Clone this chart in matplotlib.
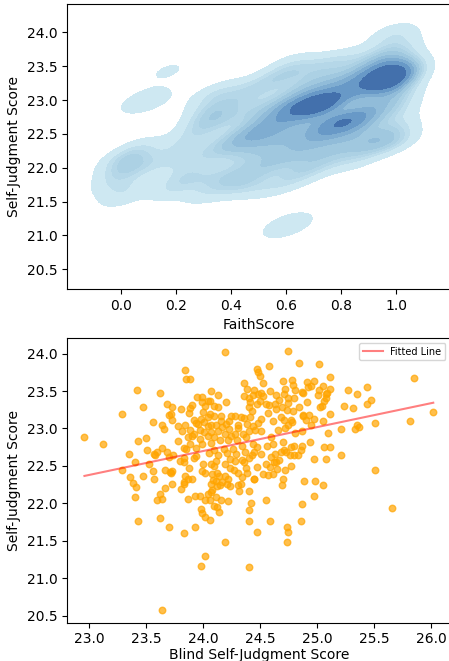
import numpy as np
import matplotlib
matplotlib.use("Agg")
import matplotlib.pyplot as plt
from matplotlib.colors import LinearSegmentedColormap
import seaborn as sns

# --- top panel: (FaithScore, Self-Judgment) samples ---
kde_faith = [
    # peak around faith = 1
    1.00, 1.00, 0.98, 0.97, 1.00, 0.95, 1.00, 0.99, 0.96, 1.00, 0.94, 1.00, 0.97,
    1.00, 1.00, 1.00, 0.98, 0.95, 0.90, 0.88, 1.00, 1.00, 0.97, 1.00, 0.93, 1.00, 0.95, 1.00, 0.92,
    # middle dark spots
    0.70, 0.66, 0.74, 0.64, 0.72, 0.68, 0.60, 0.76, 0.70, 0.72, 0.67, 0.74,
    0.78, 0.82, 0.74, 0.80, 0.76, 0.85, 0.78,
    # main body
    0.60, 0.62, 0.58, 0.65, 0.70, 0.72, 0.85, 0.88, 0.90, 0.86, 0.82, 0.90, 0.80, 0.76,
    0.70, 0.64, 0.82, 0.78, 0.72, 0.86, 0.60, 0.56, 0.55, 0.68, 0.84, 0.92, 0.66, 0.80,
    0.60, 0.68, 0.75, 0.82, 0.90, 0.98, 0.55, 0.64, 0.72, 0.85, 0.62, 0.50,
    0.60, 0.55, 0.68, 0.75, 0.82, 0.50, 0.45, 0.62,
    0.52, 0.55, 0.58, 0.88,
    # band 0.4 - 0.55
    0.45, 0.48, 0.50, 0.42, 0.52, 0.46, 0.40, 0.44, 0.50, 0.42, 0.53, 0.48,
    # left middle
    0.33, 0.35, 0.31, 0.37, 0.29,
    0.30, 0.36, 0.26, 0.42, 0.20,
    0.22, 0.26, 0.38, 0.30, 0.20, 0.32, 0.38,
    0.18, 0.30, 0.45,
    # far left
    0.00, 0.03, 0.00, -0.03, 0.00, 0.07, 0.12, 0.04, 0.01,
    # isolated
    0.08, 0.10, 0.17, 0.60, 0.61,
]
kde_self = [
    23.35, 23.40, 23.30, 23.42, 23.28, 23.36, 23.48, 23.33, 23.25, 23.22, 23.45, 23.38, 23.50,
    23.60, 23.75, 23.90, 24.00, 23.65, 23.55, 23.40, 23.10, 22.95, 23.05, 22.80, 22.90, 22.60, 22.50, 22.40, 23.20,
    22.92, 22.95, 22.98, 22.85, 22.85, 23.02, 22.90, 22.90, 22.90, 22.95, 22.88, 22.92,
    22.65, 22.60, 22.62, 22.72, 22.55, 22.68, 22.65,
    22.70, 22.55, 22.45, 22.40, 22.45, 22.35, 22.45, 22.60, 22.75, 22.80, 23.05, 23.12, 23.10, 23.15,
    23.15, 23.20, 23.25, 23.35, 23.30, 23.30, 23.05, 22.85, 22.60, 22.65, 22.78, 22.40, 22.25, 22.40,
    22.15, 22.10, 22.20, 22.25, 22.30, 22.35, 22.05, 21.95, 22.00, 22.10, 21.80, 22.15,
    23.40, 23.30, 23.45, 23.55, 23.60, 23.20, 23.05, 23.55,
    22.55, 22.75, 22.30, 23.22,
    22.50, 22.40, 22.60, 22.30, 22.35, 22.75, 22.45, 22.15, 21.95, 21.75, 21.70, 22.90,
    22.75, 22.68, 22.85, 22.90, 22.62,
    21.85, 21.82, 21.95, 21.90, 21.80,
    22.30, 22.45, 22.30, 22.20, 22.05, 23.05, 23.15,
    21.65, 21.60, 21.72,
    22.10, 22.18, 21.95, 21.78, 21.55, 22.30, 22.08, 22.02, 21.70,
    22.98, 23.00, 23.43, 21.14, 21.16,
]

# --- bottom panel: Blind Self-Judgment vs Self-Judgment (scatter) ---
blind_score = [
    22.96, 23.12, 23.29, 23.42, 23.47, 23.35, 23.29, 23.40, 23.43, 23.50,
    23.53, 23.51, 23.47, 23.36, 23.39, 23.41, 23.40, 23.43, 23.56, 23.62,
    23.64, 23.66, 23.68, 23.73, 23.70, 23.72, 23.73, 23.56, 23.57, 23.57,
    23.58, 23.60, 23.64, 23.68, 23.70, 23.74, 23.67, 23.72, 23.73, 23.67,
    23.73, 23.62, 23.60, 23.64, 23.62, 23.70, 23.83, 23.64, 23.84, 23.85,
    23.89, 23.81, 23.78, 23.82, 23.84, 23.78, 23.83, 23.85, 23.83, 23.80,
    23.83, 23.84, 23.87, 23.90, 23.83, 23.83, 23.81, 23.87, 23.93, 23.93,
    23.89, 23.90, 23.88, 23.92, 23.94, 23.95, 23.89, 23.87, 23.90, 23.92,
    23.89, 23.92, 23.94, 23.88, 23.94, 23.71,
    24.19, 24.75, 24.84, 25.02, 24.47, 24.48, 24.50, 24.58, 24.36, 24.53,
    24.70, 24.78, 24.79, 24.91, 24.97, 24.92, 24.95, 25.05, 24.39, 24.45,
    24.72, 24.81, 24.87, 25.02, 24.07, 23.99, 24.13, 24.20, 24.36, 24.40,
    24.44, 24.48, 24.51, 24.53, 24.59, 24.64, 24.71, 24.75, 24.80, 24.88,
    24.91, 25.01, 25.04, 25.03, 25.06, 24.41, 24.47, 24.50, 24.55, 24.58,
    24.63, 24.69, 24.75, 24.67, 24.40, 24.43, 24.57, 24.64, 24.74, 24.79,
    24.84, 24.88, 24.93, 23.99, 24.04, 24.06, 24.02, 24.10, 24.13, 24.00,
    24.06, 24.04, 24.10, 24.16, 24.16, 24.23, 24.25, 24.28, 24.33, 24.36,
    24.41, 24.48, 24.51, 24.61, 24.68, 24.71, 24.75, 24.77, 24.78, 24.88,
    24.90, 24.97, 25.05, 23.96, 23.98, 24.01, 24.04, 24.07, 24.11, 24.20,
    24.31, 24.39, 24.44, 24.46, 24.51, 24.40, 24.31, 24.23, 24.17, 24.72,
    24.66, 24.81, 24.87, 24.95, 23.97, 24.01, 24.07, 24.13, 24.19, 24.04,
    24.10, 24.25, 24.28, 24.35, 24.38, 24.30, 24.22, 24.15, 23.97, 23.99,
    24.07, 24.60, 24.56, 24.61, 24.70, 24.77, 24.80, 24.87, 24.94, 25.06,
    24.47, 24.45, 24.51, 24.43, 24.44, 24.34, 24.26, 24.18, 24.10, 24.05,
    24.13, 24.21, 24.29, 24.37, 24.40, 24.34, 24.28, 24.36, 24.24, 24.19,
    24.11, 24.10, 24.07, 24.00, 23.99, 24.02, 24.08, 24.12, 24.14, 24.19,
    24.24, 24.27, 24.31, 24.39, 24.47, 24.38, 24.55, 24.59, 24.62, 24.64,
    24.67, 24.68, 24.71, 24.73, 24.76, 24.80, 24.83, 24.86, 24.97, 24.63,
    24.60, 24.65, 24.72, 24.77, 24.53, 24.57, 24.61, 24.70, 24.69, 24.45,
    24.34, 24.31, 24.33, 24.32, 24.40, 24.22, 24.21, 24.24, 24.17, 24.15,
    24.11, 24.09, 24.07, 24.12, 24.08, 24.07, 24.04, 23.97, 24.02, 24.06,
    24.11, 24.16, 24.22, 24.10, 24.12, 24.14, 23.98, 23.99, 24.02, 24.06,
    24.55, 24.45, 24.42, 24.40, 24.40, 24.47, 24.59, 24.74, 24.75, 24.74,
    24.86, 24.87, 24.97, 24.89, 24.98, 25.05, 24.19, 24.02, 23.98, 24.40,
    25.11, 25.11, 25.09, 25.08, 25.08, 25.11, 25.24, 25.32, 25.27, 25.35,
    25.44, 25.47, 25.44, 25.85, 25.10, 25.21, 25.33, 25.35, 25.37, 25.51,
    25.82, 26.02, 25.11, 25.08, 25.21, 25.51, 25.66,
]
self_judgment = [
    22.88, 22.79, 23.19, 23.52, 23.28, 22.66, 22.44, 22.55, 22.83, 22.87,
    22.52, 22.71, 22.37, 22.35, 22.27, 22.22, 22.09, 21.77, 23.08, 23.47,
    23.04, 22.99, 23.33, 23.29, 23.18, 23.19, 23.11, 22.43, 22.32, 22.66,
    22.64, 22.68, 22.74, 22.69, 22.62, 22.64, 22.44, 22.41, 22.43, 22.20,
    22.26, 22.12, 22.05, 22.06, 21.81, 21.68, 21.61, 20.58, 23.78, 23.66,
    23.66, 23.26, 23.03, 22.96, 23.05, 22.83, 22.74, 22.73, 22.60, 22.56,
    22.55, 22.36, 22.33, 22.33, 22.29, 22.26, 22.19, 22.06, 22.10, 21.68,
    23.27, 23.31, 23.20, 23.11, 23.07, 23.42, 22.98, 22.88, 22.90, 22.93,
    22.79, 22.60, 22.74, 22.47, 22.63, 22.42,
    24.02, 24.04, 23.88, 23.86, 23.80, 23.76, 23.70, 23.83, 23.61, 23.61,
    23.64, 23.65, 23.58, 23.62, 23.64, 23.56, 23.57, 23.57, 23.53, 23.51,
    23.53, 23.52, 23.49, 23.52, 23.50, 23.42, 23.44, 23.35, 23.43, 23.41,
    23.44, 23.46, 23.47, 23.43, 23.50, 23.44, 23.46, 23.41, 23.40, 23.48,
    23.35, 23.45, 23.30, 23.28, 23.36, 23.35, 23.33, 23.37, 23.33, 23.31,
    23.32, 23.29, 23.34, 23.38, 23.28, 23.23, 23.21, 23.26, 23.24, 23.23,
    23.28, 23.18, 23.18, 23.35, 23.37, 23.37, 23.30, 23.30, 23.29, 23.22,
    23.19, 23.15, 23.17, 23.16, 23.10, 23.10, 23.17, 23.16, 23.15, 23.14,
    23.15, 23.07, 23.13, 23.10, 23.15, 23.11, 23.04, 23.11, 23.08, 23.16,
    23.11, 23.12, 23.10, 23.06, 23.13, 23.08, 23.03, 23.04, 23.05, 23.06,
    23.05, 23.06, 23.03, 22.98, 22.97, 22.96, 23.00, 22.99, 23.02, 23.00,
    22.98, 22.94, 22.97, 23.05, 22.98, 22.95, 22.95, 22.96, 22.93, 22.90,
    22.88, 22.90, 22.93, 22.93, 22.88, 22.85, 22.84, 22.84, 22.86, 22.79,
    22.80, 22.88, 22.77, 22.79, 22.82, 22.75, 22.76, 22.77, 22.82, 22.75,
    22.75, 22.69, 22.66, 22.64, 22.79, 22.76, 22.73, 22.73, 22.71, 22.67,
    22.64, 22.67, 22.66, 22.68, 22.61, 22.58, 22.56, 22.55, 22.59, 22.52,
    22.56, 22.50, 22.52, 22.53, 22.43, 22.40, 22.39, 22.41, 22.36, 22.37,
    22.47, 22.44, 22.40, 22.41, 22.48, 22.47, 22.52, 22.49, 22.55, 22.55,
    22.58, 22.68, 22.71, 22.68, 22.64, 22.64, 22.65, 22.71, 22.59, 22.66,
    22.62, 22.46, 22.45, 22.50, 22.39, 22.38, 22.39, 22.33, 22.24, 22.33,
    22.35, 22.24, 22.26, 22.16, 22.16, 22.33, 22.26, 22.23, 22.28, 22.24,
    22.30, 22.31, 22.26, 22.23, 22.18, 22.15, 22.13, 22.10, 22.05, 22.05,
    22.08, 22.05, 22.03, 21.96, 21.95, 21.89, 21.93, 21.87, 21.82, 21.78,
    22.04, 22.33, 22.01, 21.91, 21.77, 21.62, 21.76, 21.68, 21.62, 21.49,
    21.76, 21.99, 22.10, 22.30, 22.30, 22.24, 21.49, 21.30, 21.16, 21.15,
    23.69, 23.53, 23.48, 23.46, 23.41, 23.19, 23.30, 23.27, 23.52, 23.46,
    23.55, 23.38, 23.32, 23.68, 22.94, 22.99, 22.99, 23.05, 23.02, 23.07,
    23.10, 23.22, 22.75, 22.59, 22.64, 22.44, 21.94,
]

fig = plt.figure(figsize=(4.49, 6.61), dpi=100)
ax1 = fig.add_axes([0.150, 0.563, 0.853, 0.431])
ax2 = fig.add_axes([0.150, 0.058, 0.853, 0.431])

# light cyan -> medium blue ramp like the original density plot
kde_cmap = LinearSegmentedColormap.from_list("faith_blues", ["#d8eff6", "#9cc6de", "#5d8fc2", "#2a5498"])

sns.kdeplot(x=kde_faith, y=kde_self, fill=True, cmap=kde_cmap, bw_adjust=0.55, ax=ax1)
ax1.set_xlim(-0.196, 1.196)
ax1.set_ylim(20.21, 24.42)
ax1.set_xticks([0.0, 0.2, 0.4, 0.6, 0.8, 1.0])
ax1.set_yticks([20.5, 21.0, 21.5, 22.0, 22.5, 23.0, 23.5, 24.0])
ax1.set_xlabel("FaithScore")
ax1.set_ylabel("Self-Judgment Score")

# scatter + least squares line
bx = np.array(blind_score)
sy = np.array(self_judgment)
ax2.scatter(bx, sy, color="orange", alpha=0.7, s=22)
slope, intercept = np.polyfit(bx, sy, 1)
xs = np.array([bx.min(), bx.max()])
ax2.plot(xs, slope * xs + intercept, color="red", alpha=0.5, linewidth=1.5, label="Fitted Line")
ax2.set_xlim(22.81, 26.17)
ax2.set_ylim(20.41, 24.21)
ax2.set_xticks([23.0, 23.5, 24.0, 24.5, 25.0, 25.5, 26.0])
ax2.set_yticks([20.5, 21.0, 21.5, 22.0, 22.5, 23.0, 23.5, 24.0])
ax2.set_xlabel("Blind Self-Judgment Score", labelpad=1)
ax2.set_ylabel("Self-Judgment Score")
ax2.legend(loc="upper right", fontsize=7)

fig.savefig("out.png", dpi=100)
